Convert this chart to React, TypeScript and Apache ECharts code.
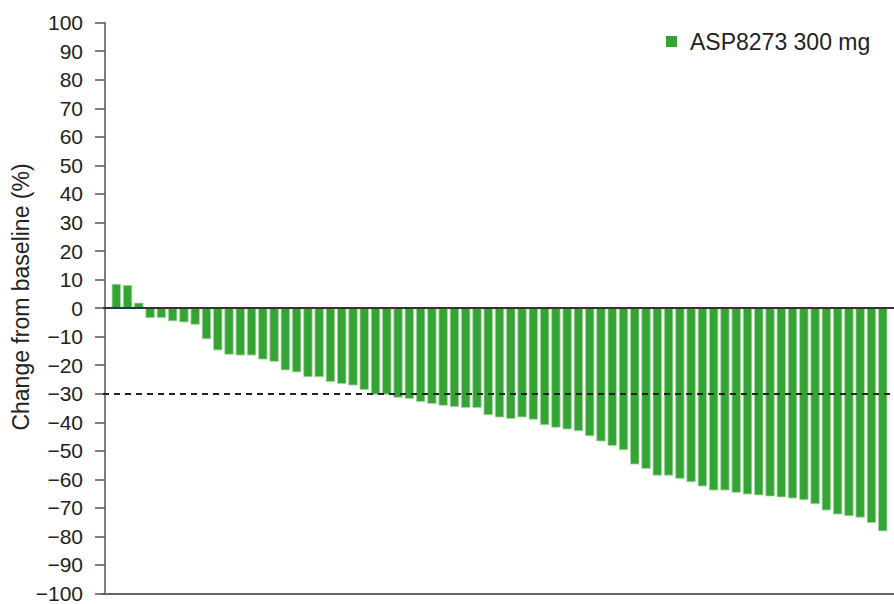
import React, { useEffect, useRef } from "react";
import * as echarts from "echarts";

const seriesName = "ASP8273 300 mg";
const patients: number[] = Array.from({ length: 69 }, (_, i) => i + 1);
const changes: number[] = [
  8.5, 8.1, 1.9, -3.5, -3.5, -4.6, -5.0, -5.8, -10.9, -14.8,
  -16.3, -16.6, -16.6, -18.0, -18.8, -21.8, -22.5, -24.2, -24.2, -25.9,
  -26.6, -27.1, -28.7, -30.3, -30.3, -31.4, -31.8, -32.9, -33.6, -34.2,
  -34.6, -35.0, -35.0, -37.5, -38.3, -38.8, -38.3, -39.1, -41.0, -41.9,
  -42.5, -43.1, -44.9, -46.7, -48.3, -49.8, -54.8, -56.3, -58.7, -58.7,
  -59.8, -61.0, -62.5, -63.9, -63.9, -64.7, -65.3, -65.6, -66.0, -66.3,
  -66.7, -67.3, -68.7, -70.9, -72.3, -72.9, -73.4, -75.3, -78.2,
];
const yTicks: number[] = [-100, -90, -80, -70, -60, -50, -40, -30, -20, -10, 0, 10, 20, 30, 40, 50, 60, 70, 80, 90, 100];
const thresholdLine = -30;
const yTitle = "Change from baseline (%)";

const GREEN = "#34a534";
const FONT = "'Liberation Sans', Arial, Helvetica, sans-serif";

export default function App() {
  const ref = useRef<HTMLDivElement>(null);
  useEffect(() => {
    if (!ref.current) return;
    const chart = echarts.init(ref.current, undefined, { renderer: "svg" });
    chart.setOption({
      animation: false,
      backgroundColor: "#ffffff",
      textStyle: { fontFamily: FONT },
      grid: { left: 103, right: 0, top: 22.7, bottom: 8, containLabel: false },
      legend: {
        data: [seriesName],
        left: 666,
        top: 30,
        padding: 0,
        icon: "rect",
        itemWidth: 11,
        itemHeight: 11,
        itemStyle: { borderWidth: 0 },
        textStyle: { fontSize: 23, color: "#222", fontFamily: FONT, padding: [0, 0, 0, 8] },
      },
      xAxis: {
        type: "value",
        min: -0.18,
        max: 70.0,
        axisLabel: { show: false },
        axisTick: { show: false },
        splitLine: { show: false },
        axisLine: { show: true, onZero: false, lineStyle: { color: "#666", width: 2 } },
      },
      yAxis: {
        type: "value",
        min: yTicks[0],
        max: yTicks[yTicks.length - 1],
        interval: 10,
        splitLine: { show: false },
        axisLine: { show: true, lineStyle: { color: "#555", width: 1.5 } },
        axisTick: { show: true, length: 10, lineStyle: { color: "#555", width: 1.5 } },
        axisLabel: {
          margin: 20,
          fontSize: 21,
          color: "#222",
          fontFamily: FONT,
          formatter: (v: number) => (v < 0 ? "\u2212" + Math.abs(v) : String(v)),
        },
      },
      graphic: [
        {
          type: "text",
          x: 21,
          y: 297,
          rotation: Math.PI / 2,
          style: {
            text: yTitle,
            fontSize: 23,
            fontFamily: FONT,
            fill: "#222",
            align: "center",
            verticalAlign: "middle",
          },
        },
      ],
      series: [
        {
          name: seriesName,
          type: "bar",
          barWidth: 9.3,
          itemStyle: { color: GREEN, borderColor: "#a9d8a5", borderWidth: 0.8 },
          data: patients.map((p, i) => [p, changes[i]]),
          markLine: {
            silent: true,
            symbol: "none",
            label: { show: false },
            data: [
              { yAxis: 0, lineStyle: { color: "#333", width: 2, type: "solid" } },
              { yAxis: thresholdLine, lineStyle: { color: "#222", width: 2, type: [6, 5] } },
            ],
          },
        },
      ],
    });
    return () => chart.dispose();
  }, []);
  return (
    <div
      ref={ref}
      style={{ position: "fixed", left: 0, top: 0, width: 894, height: 604 }}
    />
  );
}
